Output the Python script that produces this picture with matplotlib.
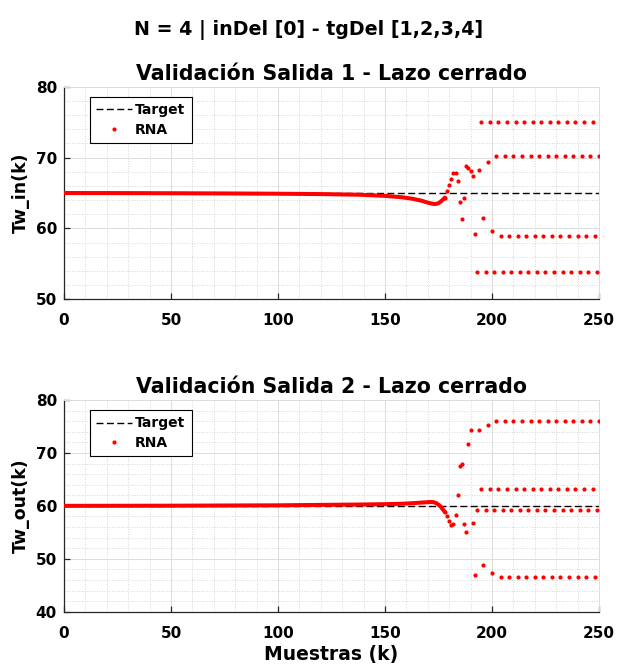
"""Closed-loop validation plot for the NARX network (two outputs)."""

import numpy as np
import matplotlib

matplotlib.use("Agg")
import matplotlib.pyplot as plt  # noqa: E402
from matplotlib.ticker import MultipleLocator  # noqa: E402

plt.rcParams["font.family"] = ["DejaVu Sans"]
plt.rcParams["font.weight"] = "bold"
plt.rcParams["axes.titleweight"] = "bold"
plt.rcParams["axes.labelweight"] = "bold"

SUPTITLE = "N = 4 | inDel [0] - tgDel [1,2,3,4]"
TITLES = ["Validación Salida 1 - Lazo cerrado", "Validación Salida 2 - Lazo cerrado"]
YLABELS = ["Tw_in(k)", "Tw_out(k)"]
XLABEL = "Muestras (k)"

# target (setpoint) per output
targets = [65.0, 60.0]
k_target = [0, 250]

# smooth part of the network response (k = 0..178)
out1_k_smooth = [0, 25, 50, 75, 100, 120, 138, 150, 158, 163, 167, 170, 172, 173.5, 175, 176, 177, 178]
out1_v_smooth = [65.0, 64.99, 64.97, 64.94, 64.9, 64.85, 64.76, 64.6, 64.4, 64.18, 63.92, 63.64,
                 63.5, 63.44, 63.55, 63.78, 64.05, 64.35]

out2_k_smooth = [0, 50, 100, 138, 150, 157, 163, 167, 170, 171, 172, 173, 174, 175, 176, 177, 178]
out2_v_smooth = [60.0, 60.03, 60.1, 60.25, 60.32, 60.38, 60.5, 60.62, 60.69, 60.72, 60.72, 60.66,
                 60.5, 60.22, 59.85, 59.35, 58.81]

# discrete samples once the loop goes unstable (k = 178..250)
k_dots = np.arange(178, 251)

out1_dots = [
    64.35, 65.31, 66.10, 67.04, 67.79, 67.84, 66.67, 63.71, 61.31, 64.27, 68.78, 68.54, 68.12, 67.37,
    59.15, 53.80, 68.22, 75.02,
    61.46, 53.80, 69.34, 75.02,
    59.58, 53.80, 70.23, 75.02,
    58.92, 53.80, 70.25, 75.02,
    58.92, 53.80, 70.25, 75.02,
    58.92, 53.80, 70.25, 75.02,
    58.92, 53.80, 70.25, 75.02,
    58.92, 53.80, 70.25, 75.02,
    58.92, 53.80, 70.25, 75.02,
    58.92, 53.80, 70.25, 75.02,
    58.92, 53.80, 70.25, 75.02,
    58.92, 53.80, 70.25, 75.02,
    58.92, 53.80, 70.25, 75.02,
    58.92, 53.80, 70.25, 75.02,
    58.92, 53.80, 70.25,
]

out2_dots = [
    58.81, 58.00, 57.06, 56.38, 56.56, 58.25, 62.06, 67.44, 67.94, 56.63, 55.00, 71.69, 74.25, 56.75,
    46.88, 59.19, 74.25, 63.25,
    48.88, 59.19, 75.25, 63.25,
    47.25, 59.19, 76.00, 63.25,
    46.63, 59.19, 76.00, 63.25,
    46.63, 59.19, 76.00, 63.25,
    46.63, 59.19, 76.00, 63.25,
    46.63, 59.19, 76.00, 63.25,
    46.63, 59.19, 76.00, 63.25,
    46.63, 59.19, 76.00, 63.25,
    46.63, 59.19, 76.00, 63.25,
    46.63, 59.19, 76.00, 63.25,
    46.63, 59.19, 76.00, 63.25,
    46.63, 59.19, 76.00, 63.25,
    46.63, 59.19, 76.00, 63.25,
    46.63, 59.19, 76.00,
]

y_limits = [(50, 80), (40, 80)]
y_ticks = [[50, 60, 70, 80], [40, 50, 60, 70, 80]]
x_ticks = [0, 50, 100, 150, 200, 250]

AXIS_COLOR = "#262626"
RED = "#ff0000"

fig = plt.figure(figsize=(6.17, 6.68), dpi=100)
positions = [
    [0.1037, 0.5519, 0.8671, 0.3183],
    [0.1037, 0.0843, 0.8671, 0.3169],
]

smooth_k = [out1_k_smooth, out2_k_smooth]
smooth_v = [out1_v_smooth, out2_v_smooth]
dots = [out1_dots, out2_dots]

for i in range(2):
    ax = fig.add_axes(positions[i])
    ax.plot(k_target, [targets[i]] * 2, color="black", linestyle=(0, (5, 2.5)),
            linewidth=1.0, label="Target", zorder=2)
    ax.plot(smooth_k[i], smooth_v[i], color=RED, linewidth=2.9,
            solid_capstyle="round", label="_nolegend_", zorder=3)
    ax.plot(k_dots, dots[i], linestyle="none", marker="o", markersize=3.0,
            markeredgewidth=0, color=RED, label="RNA", zorder=3)

    ax.set_xlim(0, 250)
    ax.set_ylim(*y_limits[i])
    ax.set_xticks(x_ticks)
    ax.set_yticks(y_ticks[i])
    ax.xaxis.set_minor_locator(MultipleLocator(10))
    ax.yaxis.set_minor_locator(MultipleLocator(2))

    ax.grid(True, which="major", color="#dcdcdc", linewidth=0.7, linestyle="-")
    ax.grid(True, which="minor", color="#c8c8c8", linewidth=0.6, linestyle=(0, (1, 2)))
    ax.set_axisbelow(True)

    for side in ("left", "bottom"):
        ax.spines[side].set_color(AXIS_COLOR)
        ax.spines[side].set_linewidth(0.9)
    for side in ("top", "right"):
        ax.spines[side].set_color("#dcdcdc")
        ax.spines[side].set_linewidth(0.7)

    ax.tick_params(which="major", direction="in", length=4, width=0.9,
                   colors=AXIS_COLOR, labelcolor="black", labelsize=11,
                   top=False, right=False)
    ax.tick_params(axis="x", which="major", pad=10)
    ax.tick_params(axis="y", which="major", pad=5)
    ax.tick_params(which="minor", length=0)
    for lab in ax.get_xticklabels() + ax.get_yticklabels():
        lab.set_fontweight("bold")

    ax.set_title(TITLES[i], fontsize=14.8, pad=5)
    ax.set_ylabel(YLABELS[i], fontsize=12.5, labelpad=4)

    leg = ax.legend(loc="upper left", bbox_to_anchor=(0.0486, 0.952), fontsize=10,
                    frameon=True, fancybox=False, edgecolor="black", framealpha=1,
                    handlelength=2.6, handletextpad=0.2, borderpad=0.45,
                    labelspacing=0.4, borderaxespad=0.0)
    leg.get_frame().set_linewidth(0.8)
    for txt in leg.get_texts():
        txt.set_fontweight("bold")

fig.axes[-1].set_xlabel(XLABEL, fontsize=13.5, labelpad=3)
fig.suptitle(SUPTITLE, fontsize=13.7, fontweight="bold", y=0.97)

fig.savefig("out.png", dpi=100)
